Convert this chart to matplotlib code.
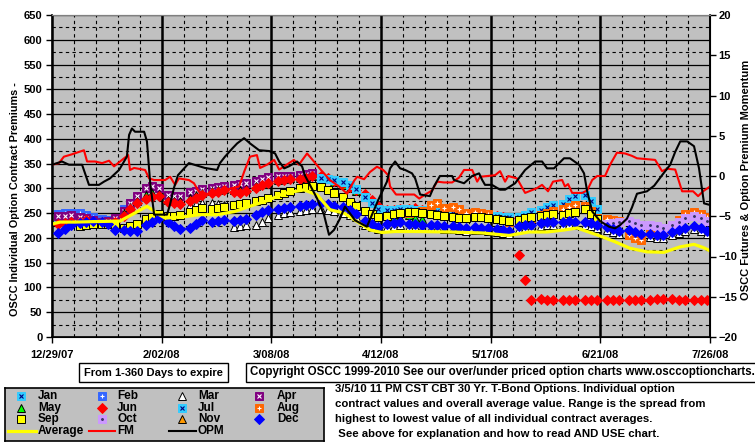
import matplotlib
matplotlib.use('Agg')
import matplotlib.pyplot as plt
from matplotlib.patches import Rectangle
from matplotlib.ticker import MultipleLocator, FixedLocator

plt.rcParams['font.family'] = ['Liberation Sans', 'DejaVu Sans']
plt.rcParams['font.weight'] = 'bold'

# x axis: days from 12/29/07
date_ticks = [0, 35, 70, 105, 140, 175, 210]
date_labels = ['12/29/07', '2/02/08', '3/08/08', '4/12/08', '5/17/08', '6/21/08', '7/26/08']

# contract values (3 readings per week: Mon, Wed, Fri), first week index given
jan_start, jan = 0, [240, 242, 244]
feb_start, feb = 0, [248, 250, 250, 250, 246, 242, 238, 236, 234, 258, 270, 282]
mar_start, mar = 6, [266, 268, 270, 270, 268, 266, 222, 224, 226, 226, 232, 240,
                     246, 250, 253, 254, 256, 258, 258, 256, 254, 250, 246, 242,
                     226, 222, 218, 222, 224, 226, 222, 222, 220, 220, 220, 218,
                     218, 216, 214, 216, 215, 214, 212, 210, 208, 218, 220, 220,
                     224, 226, 227, 227, 228, 227, 227, 224, 220, 216, 212, 207,
                     209, 206, 202, 202, 200, 199, 206, 210, 214, 218, 214, 208]
apr_start, apr = 0, [244, 245, 246, 242, 240, 236, 232, 234, 240, 255, 270, 285,
                     300, 305, 300, 286, 285, 284, 292, 295, 298, 300, 302, 304,
                     306, 308, 310, 314, 318, 322, 326, 326, 324, 328, 330, 331]
may_start, may = 3, [250, 262, 275, 286, 290, 288, 276, 275, 274, 280, 286, 290,
                     294, 296, 298, 296, 296, 298, 304, 308, 312, 316, 318, 320,
                     320, 322, 324, 322, 318, 312, 306, 300, 294, 284, 272, 262,
                     244, 242, 240, 246, 240, 238]
jun_start, jun = 0, [228, 230, 232, 233, 236, 232, 232, 231, 233, 245, 258, 270,
                     278, 282, 284, 272, 270, 268, 274, 280, 286, 290, 293, 296,
                     292, 290, 294, 300, 306, 311, 314, 316, 318, 318, 321, 324,
                     324, 320, 315, 310, 303, 297, 288, 276, 264, 256, 256, 258,
                     258, 260, 256, 254, 252, 250, 250, 248, 246, 248, 246, 245,
                     244, 242, 240, 165, 115, 75, 76, 75, 75, 75, 75, 74,
                     74, 74, 75, 74, 74, 74, 75, 75, 75, 75, 76, 76,
                     76, 75, 75, 74, 74, 75]
jul_start, jul = 12, [320, 318, 316, 312, 306, 298, 282, 270, 258, 256, 257, 258,
                      258, 256, 256, 254, 254, 252, 250, 248, 248, 250, 248, 246,
                      244, 242, 242, 242, 246, 252, 256, 262, 266, 268, 278, 285,
                      287, 275, 258]
aug_start, aug = 16, [250, 252, 254, 266, 270, 260, 262, 258, 250, 252, 250, 248,
                      238, 236, 232, 236, 238, 240, 246, 250, 254, 258, 262, 266,
                      264, 255, 240, 238, 236, 234, 205, 200, 196, 212, 214, 216,
                      226, 236, 248, 252, 248, 242]
sep_start, sep = 1, [224, 226, 228, 228, 228, 226, 220, 224, 228, 238, 243, 248,
                     244, 245, 247, 252, 256, 260, 258, 260, 262, 266, 268, 271,
                     274, 277, 280, 286, 290, 294, 300, 303, 304, 302, 296, 290,
                     282, 272, 265, 255, 248, 243, 244, 248, 250, 252, 252, 250,
                     248, 246, 244, 242, 240, 240, 243, 242, 240, 238, 236, 235,
                     236, 240, 242, 244, 246, 248, 247, 250, 252, 258, 248, 238]
oct_start, oct_ = 25, [228, 230, 232, 234, 230, 226, 226, 224, 220, 226, 232, 240,
                       244, 240, 234]
nov_start, nov = 0, []
dec_start, dec = 0, [210, 218, 226, 230, 233, 235, 232, 228, 216, 215, 213, 214,
                     226, 233, 240, 232, 224, 218, 220, 228, 236, 232, 234, 236,
                     234, 236, 238, 246, 252, 257, 258, 260, 262, 265, 267, 268,
                     270, 268, 264, 262, 257, 248, 235, 228, 223, 228, 231, 233,
                     228, 228, 226, 226, 226, 224, 224, 222, 220, 222, 221, 220,
                     218, 216, 214, 224, 226, 226, 230, 232, 233, 233, 234, 233,
                     233, 230, 226, 222, 218, 213, 215, 212, 208, 208, 206, 205,
                     212, 216, 220, 224, 220, 214]

# overall average (left axis)
avg_days = [0, 2.6, 7.3, 13.7, 21.7, 25.5, 30.3, 31.9, 34.2, 36.1, 42.5, 47.2, 52.7,
            58.1, 63.2, 68.6, 74.1, 80.4, 84.6, 88.7, 93.2, 97.4, 101.5, 105.3,
            109.5, 115.9, 126.7, 137.3, 145.9, 152.2, 158.0, 163.4, 167.6, 170.8,
            174.0, 179.4, 184.5, 189.9, 195.3, 200.5, 204.9, 208.1, 210]
avg_vals = [228, 232, 232, 233, 234, 247, 264, 257, 247, 240, 243, 247, 247,
            253, 264, 275, 290, 297, 287, 257, 250, 233, 216, 211,
            213, 213, 212, 210, 205, 212, 212, 216, 220, 213,
            206, 193, 179, 172, 171, 182, 187, 180, 174]

# FM (right axis)
fm_days = [0, 2.2, 3.8, 6.4, 10.2, 11.2, 13.7, 16.0, 18.2, 19.8, 23.0, 24.3, 24.9,
           26.2, 29.7, 31.0, 32.6, 36.1, 37.7, 39.3, 40.5, 43.7, 45.3, 46.9, 50.1,
           52.7, 54.9, 57.5, 59.7, 61.3, 63.2, 65.4, 66.4, 68.6, 70.9, 72.5, 74.1,
           77.2, 78.8, 81.4, 83.6, 85.5, 88.7, 91.6, 94.2, 96.4, 97.4, 99.6, 101.5,
           103.7, 105.7, 107.3, 107.9, 109.8, 115.6, 117.2, 119.1, 121.3, 122.9,
           125.1, 127.7, 129.9, 131.5, 134.1, 135.7, 136.6, 141.4, 143.0, 144.6,
           145.6, 148.4, 151.0, 154.8, 156.4, 158.3, 159.9, 162.8, 163.7, 164.7,
           166.0, 169.2, 170.8, 172.4, 174.0, 176.5, 178.1, 180.3, 182.9, 185.1,
           186.7, 192.5, 194.7, 196.3, 198.9, 201.1, 204.6, 206.2, 207.8, 210]
fm_vals = [1.4, 1.6, 2.4, 2.7, 3.2, 1.8, 1.8, 1.6, 1.9, 1.2, 2.2, 2.6, 0.75,
           1.0, 0.75, -0.3, -0.5, -0.5, -0.1, -1.1, -0.3, -0.5, -0.9, -1.95, -2.3,
           -2.1, -1.8, -1.5, -1.3, 0.5, 2.4, 2.6, 1.0, 1.4, 2.0, 0.8, 1.2,
           2.0, 1.4, 2.8, 1.8, 0.9, -0.5, -1.3, -2.2, -0.6, -0.1, -0.4, 0.5,
           1.15, 0.75, 0.1, -1.3, -2.3, -2.3, -2.8, -2.3, -1.8, -0.7,
           -0.8, -0.8, -0.2, 0.75, 0.75, -0.7, -0.1, 0.1, 0.6, -0.7,
           0.0, -0.3, -2.1, -1.5, -1.1, -1.9, -0.7, -0.5, -1.3, -1.0,
           -2.1, -2.1, -1.8, -0.5, 0.0, 0.0, 1.4, 2.9, 2.8, 2.5,
           2.2, 2.0, 0.6, 0.9, 0.8, -1.9, -1.9, -2.5, -1.9, -1.3]

# OPM (right axis)
opm_days = [0, 3.2, 5.4, 9.6, 11.8, 15.0, 16.6, 18.5, 21.4, 23.9, 24.6, 25.5, 26.5,
            29.4, 30.3, 31.3, 32.6, 36.7, 37.7, 38.9, 40.2, 43.7, 48.8, 52.7, 53.6,
            55.2, 57.5, 59.1, 61.3, 63.2, 66.1, 69.3, 71.2, 72.5, 74.1, 75.6, 78.2,
            79.8, 80.8, 83.0, 84.6, 86.8, 88.4, 90.0, 91.9, 93.5, 96.7, 100.5, 104.1,
            106.9, 107.9, 109.5, 111.1, 112.7, 114.9, 115.9, 117.5, 120.6, 121.9,
            123.8, 127.7, 128.3, 131.5, 134.1, 136.3, 137.3, 138.2, 140.4, 143.0,
            144.6, 147.8, 151.0, 154.2, 156.4, 158.0, 160.2, 163.4, 165.3, 168.2,
            169.8, 170.8, 172.4, 174.9, 177.8, 179.7, 181.3, 183.5, 185.1, 186.7,
            189.9, 192.2, 194.7, 197.3, 198.9, 200.5, 202.7, 204.9, 206.5, 208.1, 210]
opm_vals = [1.4, 1.8, 1.4, 1.4, -1.1, -1.1, -0.7, -0.3, 0.75, 2.4, 5.1, 5.9, 5.5,
            5.5, 4.3, -0.7, -4.8, -4.8, -3.5, -1.5, 0.1, 1.6, 1.0, 0.75, 1.6,
            2.4, 3.4, 4.05, 4.7, 4.05, 3.2, 3.1, 2.8, 1.8, 0.95, 1.2, 1.8,
            1.2, 0.0, -1.6, -2.8, -4.8, -7.3, -6.7, -5.3, -3.8, -5.5, -6.3, -3.0,
            -0.7, 0.95, 1.8, 0.95, 0.75, 0.33, -0.3, -2.3, -2.5, -1.3,
            0.0, 0.0, -0.5, -0.9, 0.0, 0.33, -0.5, -1.1, -1.1, -1.7,
            -1.7, -0.9, 0.75, 1.8, 1.8, 0.95, 0.95, 2.2, 2.2, 1.4,
            0.33, -1.9, -4.4, -5.6, -6.3, -6.5, -6.1, -5.3, -3.9, -2.2,
            -1.9, -1.2, 0.1, 1.4, 3.0, 4.3, 4.3, 3.7, 0.95, -3.4, -3.6]

# marker styles: marker, size, face, edge, overlay mark, overlay colour
styles = {
    'Jan': ('s', 5.5, '#33CCFF', '#33CCFF', 'x', '#000080'),
    'Feb': ('s', 5.5, '#3366FF', '#3366FF', '+', 'white'),
    'Mar': ('^', 5.5, 'white', 'black', None, None),
    'Apr': ('s', 5.5, '#800080', '#800080', 'x', 'white'),
    'May': ('^', 5.5, '#00FF00', 'black', None, None),
    'Jun': ('D', 5, '#FF0000', '#FF0000', None, None),
    'Jul': ('s', 5.5, '#33CCFF', '#33CCFF', 'x', '#000080'),
    'Aug': ('s', 5.5, '#FF6600', '#FF6600', '+', 'white'),
    'Sep': ('s', 5.5, '#FFFF00', 'black', None, None),
    'Oct': ('s', 5.5, '#CC99FF', '#CC99FF', '.', '#333366'),
    'Nov': ('^', 5.5, '#FF9900', 'black', None, None),
    'Dec': ('D', 5, '#0000FF', '#0000FF', None, None),
}

series = [('Jan', jan_start, jan), ('Feb', feb_start, feb), ('Mar', mar_start, mar),
          ('Apr', apr_start, apr), ('May', may_start, may), ('Jun', jun_start, jun),
          ('Jul', jul_start, jul), ('Aug', aug_start, aug), ('Sep', sep_start, sep),
          ('Oct', oct_start, oct_), ('Nov', nov_start, nov), ('Dec', dec_start, dec)]

W, H = 755, 446
fig = plt.figure(figsize=(W / 100, H / 100), dpi=100)


def fx(x):
    return x / W


def fy(y):
    return 1 - y / H


ax = fig.add_axes([fx(52), fy(337), 658 / W, 322 / H])
ax.set_facecolor('#C0C0C0')
ax.set_xlim(0, 210)
ax.set_ylim(0, 650)
ax.xaxis.set_major_locator(FixedLocator(date_ticks))
ax.set_xticklabels(date_labels)
ax.xaxis.set_minor_locator(MultipleLocator(7))
ax.yaxis.set_major_locator(MultipleLocator(50))
ax.yaxis.set_minor_locator(MultipleLocator(25))
ax.set_axisbelow(True)
ax.grid(which='major', axis='y', color='black', lw=0.9)
ax.grid(which='major', axis='x', color='black', lw=1.8)
ax.grid(which='minor', axis='both', color='black', lw=0.8, ls=(0, (3, 3)))
ax.tick_params(which='minor', length=0)
ax.tick_params(which='major', length=4, width=1, labelsize=8, pad=3)
ax.tick_params(axis='x', pad=5)
for s in ['left', 'bottom']:
    ax.spines[s].set_linewidth(1.2)
ax.spines['top'].set_color('#808080')

for name, start, vals in series:
    m, ms, fc, ec, om, oc = styles[name]
    days = [2 + 7 * (start + i // 3) + 2 * (i % 3) for i in range(len(vals))]
    ax.plot(days, vals, ls='none', marker=m, ms=ms, mfc=fc, mec=ec, mew=0.7)
    if om:
        ax.plot(days, vals, ls='none', marker=om, ms=2.5, mec=oc, mfc=oc, mew=0.8)

ax.plot(avg_days, avg_vals, color='#FFFF00', lw=2.3)

ax2 = ax.twinx()
ax2.set_ylim(-20, 20)
ax2.yaxis.set_major_locator(MultipleLocator(5))
ax2.tick_params(which='major', length=4, width=1, labelsize=8, pad=2)
ax2.spines['right'].set_linewidth(1.2)
ax2.spines['top'].set_color('#808080')
ax2.plot(fm_days, fm_vals, color='#FF0000', lw=1.5)
ax2.plot(opm_days, opm_vals, color='black', lw=1.5)

for t in ax.get_xticklabels() + ax.get_yticklabels() + ax2.get_yticklabels():
    t.set_fontweight('bold')

fig.text(fx(15), fy(199), 'OSCC Individual Option Contract Premiums -', rotation=90,
         ha='center', va='center', fontsize=7.8, fontweight='bold')
fig.text(fx(746), fy(180), 'OSCC Futures & Option Premium Momentum', rotation=90,
         ha='center', va='center', fontsize=8, fontweight='bold')

# text boxes under the chart
fig.patches.append(Rectangle((fx(79), fy(382)), 149 / W, 19 / H, transform=fig.transFigure,
                             fc='white', ec='black', lw=1))
fig.text(fx(153.5), fy(372.5), 'From 1-360 Days to expire', ha='center', va='center',
         fontsize=8, fontweight='bold')
fig.patches.append(Rectangle((fx(246), fy(382)), 530 / W, 19 / H, transform=fig.transFigure,
                             fc='white', ec='black', lw=1))
fig.text(fx(250), fy(372.5),
         'Copyright OSCC 1999-2010 See our over/under priced option charts www.osccoptioncharts.com',
         ha='left', va='center', fontsize=8.3, fontweight='bold')

desc = ['3/5/10 11 PM CST CBT 30 Yr. T-Bond Options. Individual option',
        'contract values and overall average value. Range is the spread from',
        'highest to lowest value of all individual contract averages.',
        ' See above for explanation and how to read AND USE chart.']
for i, line in enumerate(desc):
    fig.text(fx(335), fy(389 + 15 * i), line, ha='left', va='center',
             fontsize=8.2, fontweight='bold')

# legend box
lax = fig.add_axes([fx(5), fy(441), 319 / W, 53 / H])
lax.set_facecolor('#C0C0C0')
lax.set_xlim(0, 319)
lax.set_ylim(53, 0)
lax.set_xticks([])
lax.set_yticks([])
for s in lax.spines.values():
    s.set_linewidth(1.2)

col_mark = [16, 97, 177, 254]
col_text = [33, 112, 193, 272]
row_y = [8, 20, 31, 43]
names = [n for n, _, _ in series]
for i, name in enumerate(names):
    r, c = i // 4, i % 4
    m, ms, fc, ec, om, oc = styles[name]
    lax.plot([col_mark[c]], [row_y[r]], ls='none', marker=m, ms=ms, mfc=fc, mec=ec, mew=0.7)
    if om:
        lax.plot([col_mark[c]], [row_y[r]], ls='none', marker=om, ms=2.5, mec=oc, mew=0.8)
    lax.text(col_text[c], row_y[r], name, ha='left', va='center', fontsize=8.5,
             fontweight='bold')

line_entries = [('Average', '#FFFF00', 2.3), ('FM', '#FF0000', 1.5), ('OPM', 'black', 1.5)]
for c, (name, colr, lw) in enumerate(line_entries):
    lax.plot([col_mark[c] - 13, col_text[c] - 2], [row_y[3], row_y[3]], color=colr, lw=lw)
    lax.text(col_text[c], row_y[3], name, ha='left', va='center', fontsize=8.5,
             fontweight='bold')

fig.savefig('out.png', dpi=100, facecolor='white')
